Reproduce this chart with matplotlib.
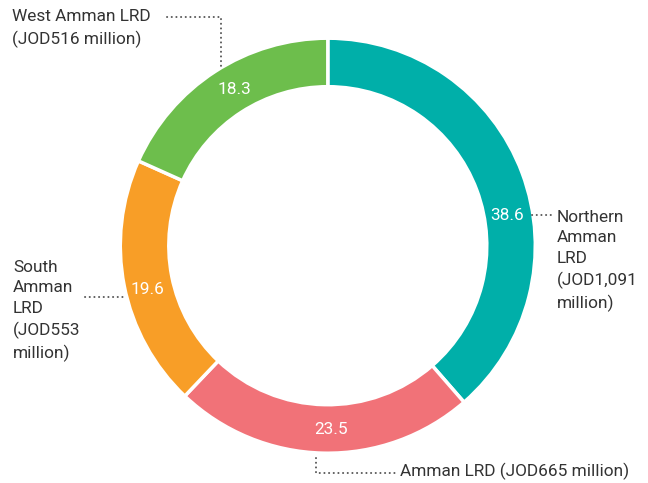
import matplotlib.pyplot as plt

# LRD shares (%) clockwise from the top
labels = ['Northern Amman LRD', 'Amman LRD', 'South Amman LRD', 'West Amman LRD']
shares = [38.6, 23.5, 19.6, 18.3]
values_jod = ['JOD1,091 million', 'JOD665 million', 'JOD553 million', 'JOD516 million']
colors = ['#00AFA9', '#F17278', '#F89E27', '#6DBE4C']

W, H = 648, 483
fig = plt.figure(figsize=(W / 100, H / 100), dpi=100)
ax = fig.add_axes([0, 0, 1, 1])

cx, cy = 327.8, H - 245.7
R = 207.5
ring = 48.5

ax.pie(shares, colors=colors, startangle=90, counterclock=False,
       center=(cx, cy), radius=R, frame=True,
       wedgeprops=dict(width=ring, edgecolor='white', linewidth=2.5))
ax.set_xlim(0, W)
ax.set_ylim(0, H)
ax.axis('off')

plt.rcParams['font.family'] = ['Roboto', 'DejaVu Sans']
txt = '#333333'
dot = '#555555'
fs = 12.4
ls = 1.44

# value labels on the ring
val_pos = [(507, 216), (331, 430), (147, 290), (234, 90)]
for v, (x, y) in zip(shares, val_pos):
    ax.text(x, H - y, f'{v}', color='white', fontsize=fs, ha='center', va='center')

# dotted leader lines
def lead(xs, ys):
    ax.plot(xs, [H - y for y in ys], color=dot, lw=1.4, ls=(0, (0.1, 2.3)),
            dash_capstyle='round', solid_capstyle='round')

lead([532, 555], [215, 215])
lead([316, 316, 397], [458, 473, 473])
lead([85, 125], [297, 297])
lead([167, 221, 221], [17, 17, 68])

ax.text(557, H - 261, 'Northern\nAmman\nLRD\n(JOD1,091\nmillion)',
        color=txt, fontsize=fs, ha='left', va='center', linespacing=ls)
ax.text(400, H - 471, labels[1] + ' (' + values_jod[1] + ')',
        color=txt, fontsize=fs, ha='left', va='center')
ax.text(13, H - 311, 'South\nAmman\nLRD\n(JOD553\nmillion)',
        color=txt, fontsize=fs, ha='left', va='center', linespacing=ls)
ax.text(12, H - 28.5, labels[3] + '\n(' + values_jod[3] + ')',
        color=txt, fontsize=fs, ha='left', va='center', linespacing=ls)

fig.savefig('out.png', dpi=100)
